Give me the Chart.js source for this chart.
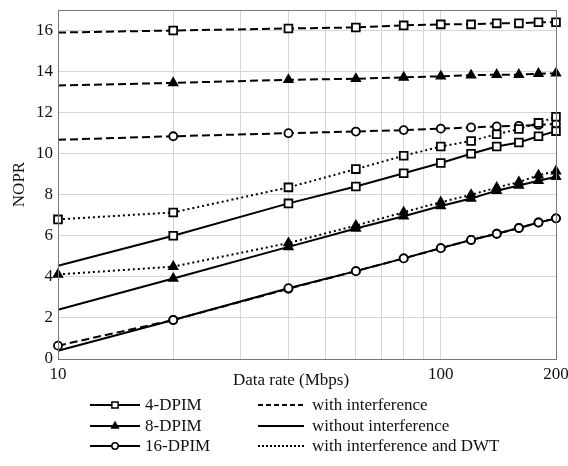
<!DOCTYPE html>
<html lang="en">
<head>
  <meta charset="UTF-8" />
  <title>NOPR vs data rate</title>
  <script src="https://cdn.jsdelivr.net/npm/chart.js"></script>
  <style>
    body {
      margin: 0;
      background: #fff;
    }
    canvas {
      display: block;
    }
  </style>
</head>
<body>
  <canvas id="chart" width="568" height="466"></canvas>

  <script>
    // data rate (Mbps)
    const rates = [10, 20, 40, 60, 80, 100, 120, 140, 160, 180, 200];

    // with interference (dashed)
    const dpim4Int = [15.9, 16.0, 16.1, 16.15, 16.25, 16.3, 16.3, 16.35, 16.35, 16.4, 16.4];
    const dpim8Int = [13.32, 13.45, 13.6, 13.65, 13.72, 13.77, 13.82, 13.85, 13.85, 13.9, 13.92];
    const dpim16Int = [10.68, 10.85, 11.0, 11.08, 11.15, 11.22, 11.28, 11.33, 11.36, 11.4, 11.45];

    // without interference (solid)
    const dpim4NoInt = [4.54, 6.0, 7.58, 8.4, 9.05, 9.55, 10.0, 10.35, 10.55, 10.85, 11.1];
    const dpim8NoInt = [2.4, 3.92, 5.46, 6.36, 6.95, 7.45, 7.82, 8.2, 8.45, 8.68, 8.88];
    const dpim16NoInt = [0.4, 1.9, 3.45, 4.28, 4.9, 5.4, 5.8, 6.1, 6.38, 6.65, 6.85];

    // with interference and DWT (dotted)
    const dpim4Dwt = [6.8, 7.14, 8.36, 9.25, 9.9, 10.35, 10.62, 10.95, 11.2, 11.5, 11.8];
    const dpim8Dwt = [4.12, 4.5, 5.65, 6.5, 7.15, 7.64, 8.0, 8.35, 8.62, 8.95, 9.15];
    const dpim16Dwt = [0.65, 1.9, 3.42, 4.28, 4.9, 5.4, 5.8, 6.1, 6.38, 6.65, 6.85];

    const xTicks = [10, 20, 30, 40, 50, 60, 70, 80, 90, 100, 200];
    const xLabels = [10, 100, 200];
    const yTicks = [0, 2, 4, 6, 8, 10, 12, 14, 16];

    const seriesNames = ["4-DPIM", "8-DPIM", "16-DPIM"];
    const styleNames = ["with interference", "without interference", "with interference and DWT"];

    const DASH = [8, 4];
    const DOT = [2, 3];
    const MARK = { "4-DPIM": "rect", "8-DPIM": "triangle", "16-DPIM": "circle" };
    const SIZE = { "4-DPIM": 5.5, "8-DPIM": 4.8, "16-DPIM": 4 };

    function pts(arr) {
      return arr.map((v, i) => ({ x: rates[i], y: v }));
    }

    function ds(name, values, dash, firstMarker) {
      const style = MARK[name];
      const r = SIZE[name];
      return {
        label: name,
        data: pts(values),
        borderColor: "#000",
        borderWidth: 2,
        borderDash: dash,
        pointStyle: style,
        pointRadius: values.map((v, i) => (i === 0 && !firstMarker ? 0 : r)),
        pointBorderWidth: 1.8,
        pointBorderColor: "#000",
        pointBackgroundColor: style === "triangle" ? "#000" : "#fff",
        tension: 0,
        clip: false
      };
    }

    function noPad(s) {
      s.paddingTop = 0;
      s.paddingBottom = 0;
      s.paddingLeft = 0;
      s.paddingRight = 0;
    }

    // frame round the plot area, x title and the custom two column legend
    const framePlugin = {
      id: "frame",
      afterDraw(chart) {
        const ctx = chart.ctx;
        const a = chart.chartArea;
        ctx.save();
        ctx.strokeStyle = "#777";
        ctx.lineWidth = 1;
        ctx.strokeRect(a.left + 0.5, a.top + 0.5, a.right - a.left, a.bottom - a.top);

        ctx.font = "17px 'Liberation Serif'";
        ctx.fillStyle = "#111";
        ctx.textBaseline = "middle";
        ctx.textAlign = "center";
        ctx.fillText("Data rate (Mbps)", 291, 381);
        ctx.textAlign = "left";

        const rows = [405, 426, 446];

        seriesNames.forEach((name, i) => {
          const y = rows[i];
          ctx.strokeStyle = "#000";
          ctx.lineWidth = 2;
          ctx.setLineDash([]);
          ctx.beginPath();
          ctx.moveTo(90, y);
          ctx.lineTo(140, y);
          ctx.stroke();
          ctx.lineWidth = 1.5;
          ctx.fillStyle = MARK[name] === "triangle" ? "#000" : "#fff";
          Chart.helpers.drawPoint(ctx, { pointStyle: MARK[name], radius: SIZE[name] * 0.8, borderWidth: 1.5 }, 115, y);
          ctx.fillStyle = "#111";
          ctx.fillText(name, 145, y + 1);
        });

        const dashes = [[5, 3], [], [2, 2]];
        styleNames.forEach((name, i) => {
          const y = rows[i];
          ctx.strokeStyle = "#000";
          ctx.lineWidth = 2;
          ctx.setLineDash(dashes[i]);
          ctx.beginPath();
          ctx.moveTo(258, y);
          ctx.lineTo(304, y);
          ctx.stroke();
          ctx.setLineDash([]);
          ctx.fillText(name, 312, y + 1);
        });
        ctx.restore();
      }
    };

    Chart.defaults.font.family = "'Liberation Serif', serif";
    Chart.defaults.color = "#111";

    new Chart(document.getElementById("chart").getContext("2d"), {
      type: "line",
      data: {
        datasets: [
          ds("4-DPIM", dpim4NoInt, [], false),
          ds("8-DPIM", dpim8NoInt, [], false),
          ds("16-DPIM", dpim16NoInt, [], false),
          ds("4-DPIM", dpim4Dwt, DOT, true),
          ds("8-DPIM", dpim8Dwt, DOT, true),
          ds("16-DPIM", dpim16Dwt, DASH, true),
          ds("4-DPIM", dpim4Int, DASH, false),
          ds("8-DPIM", dpim8Int, DASH, false),
          ds("16-DPIM", dpim16Int, DASH, false)
        ]
      },
      options: {
        responsive: false,
        animation: false,
        layout: { padding: { top: 10, right: 12, left: 0, bottom: 0 } },
        plugins: {
          legend: { display: false },
          tooltip: { enabled: false }
        },
        scales: {
          x: {
            type: "logarithmic",
            min: 10,
            max: 200,
            afterBuildTicks: (s) => { s.ticks = xTicks.map(v => ({ value: v })); },
            afterFit: (s) => { s.height = 107; noPad(s); },
            ticks: {
              autoSkip: false,
              maxRotation: 0,
              padding: 5,
              font: { size: 17 },
              callback: (v) => (xLabels.includes(v) ? String(v) : "")
            },
            grid: { color: "#d6d6d6", drawTicks: false },
            border: { color: "#777" }
          },
          y: {
            min: 0,
            max: 17,
            afterBuildTicks: (s) => { s.ticks = yTicks.map(v => ({ value: v })); },
            afterFit: (s) => { s.width = 58; noPad(s); },
            ticks: { padding: 5, font: { size: 17 } },
            grid: { color: "#d6d6d6", drawTicks: false },
            border: { color: "#777" },
            title: {
              display: true,
              text: "NOPR",
              font: { size: 17 },
              padding: { top: 9, bottom: 0 }
            }
          }
        }
      },
      plugins: [framePlugin]
    });
  </script>
</body>
</html>
